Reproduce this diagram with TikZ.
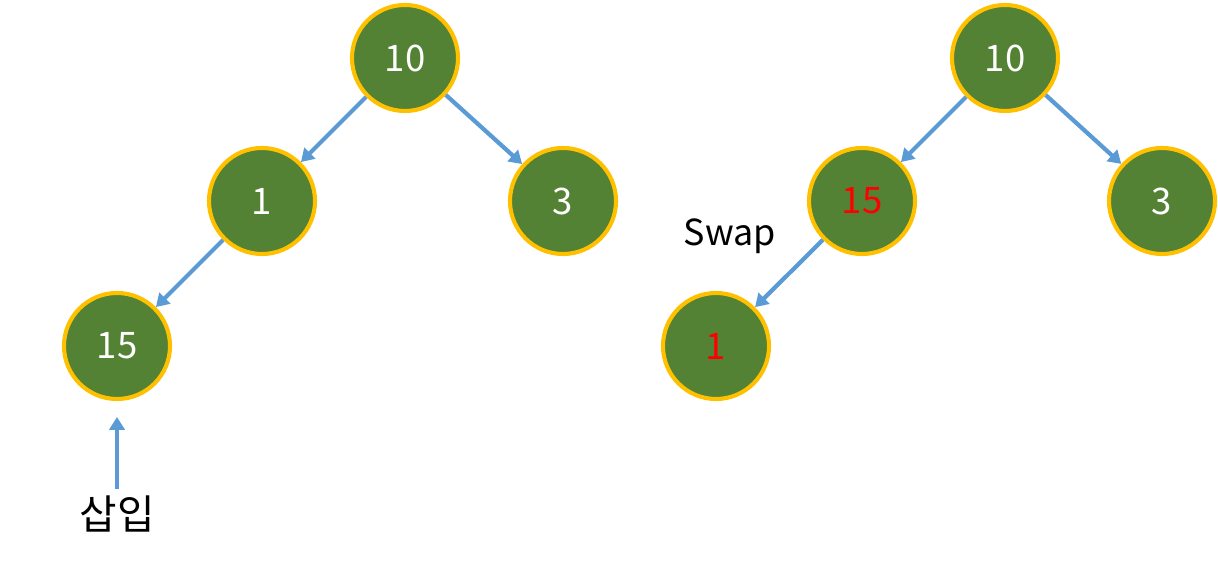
\documentclass[tikz,border=0pt]{standalone}
\usepackage{fontspec}
\setmainfont{Noto Sans CJK KR}
\usepackage{tikz}
\usetikzlibrary{
  positioning,
  arrows.meta
}
\definecolor{heapgreen}{RGB}{84, 130, 53}
\definecolor{heapgold}{RGB}{255, 192, 0}
\definecolor{heapblue}{RGB}{91, 155, 213}
\tikzset{
  heapnode/.style={
    circle, draw=heapgold, line width=2.9pt, fill=heapgreen,
    minimum size=2.65cm, inner sep=0pt,
    text=white, font=\fontsize{26}{30}\selectfont
  },
  edge/.style={-{Triangle[length=3.2mm, width=3.8mm]}, line width=3pt, heapblue},
  swapped/.style={text=red},
  caption/.style={font=\fontsize{25.5}{30}\selectfont, text=black},
  hangul/.style={font=\fontsize{29}{34}\selectfont, text=black}
}

\begin{document}
\begin{tikzpicture}[x=0.025cm, y=-0.025cm]
\useasboundingbox (0,0) rectangle (1218,569);

% left tree (before swap)
\node[heapnode] (lroot) at (405, 58) {10};
\node[heapnode] (lone) at (262, 201) {1};
\node[heapnode] (lthree) at (563, 201) {3};
\node[heapnode] (lnew) at (117, 346) {15};
\draw[edge] (lroot) -- (lone);
\draw[edge] (lroot) -- (lthree);
\draw[edge] (lone) -- (lnew);

% insert marker
\node[hangul] (insert) at (117, 514) {삽입};
\coordinate (inserttip) at (117, 417);
\draw[edge] (insert.north) ++(0,-2) -- (inserttip);

% right tree (after swap)
\node[heapnode] (rroot) at (1005, 58) {10};
\node[heapnode, swapped] (rnew) at (862, 201) {15};
\node[heapnode] (rthree) at (1162, 201) {3};
\node[heapnode, swapped] (rone) at (716, 346) {1};
\draw[edge] (rroot) -- (rnew);
\draw[edge] (rroot) -- (rthree);
\draw[edge] (rnew) -- (rone);
\node[caption] (swaplabel) at (730, 236) {Swap};

\end{tikzpicture}
\end{document}
